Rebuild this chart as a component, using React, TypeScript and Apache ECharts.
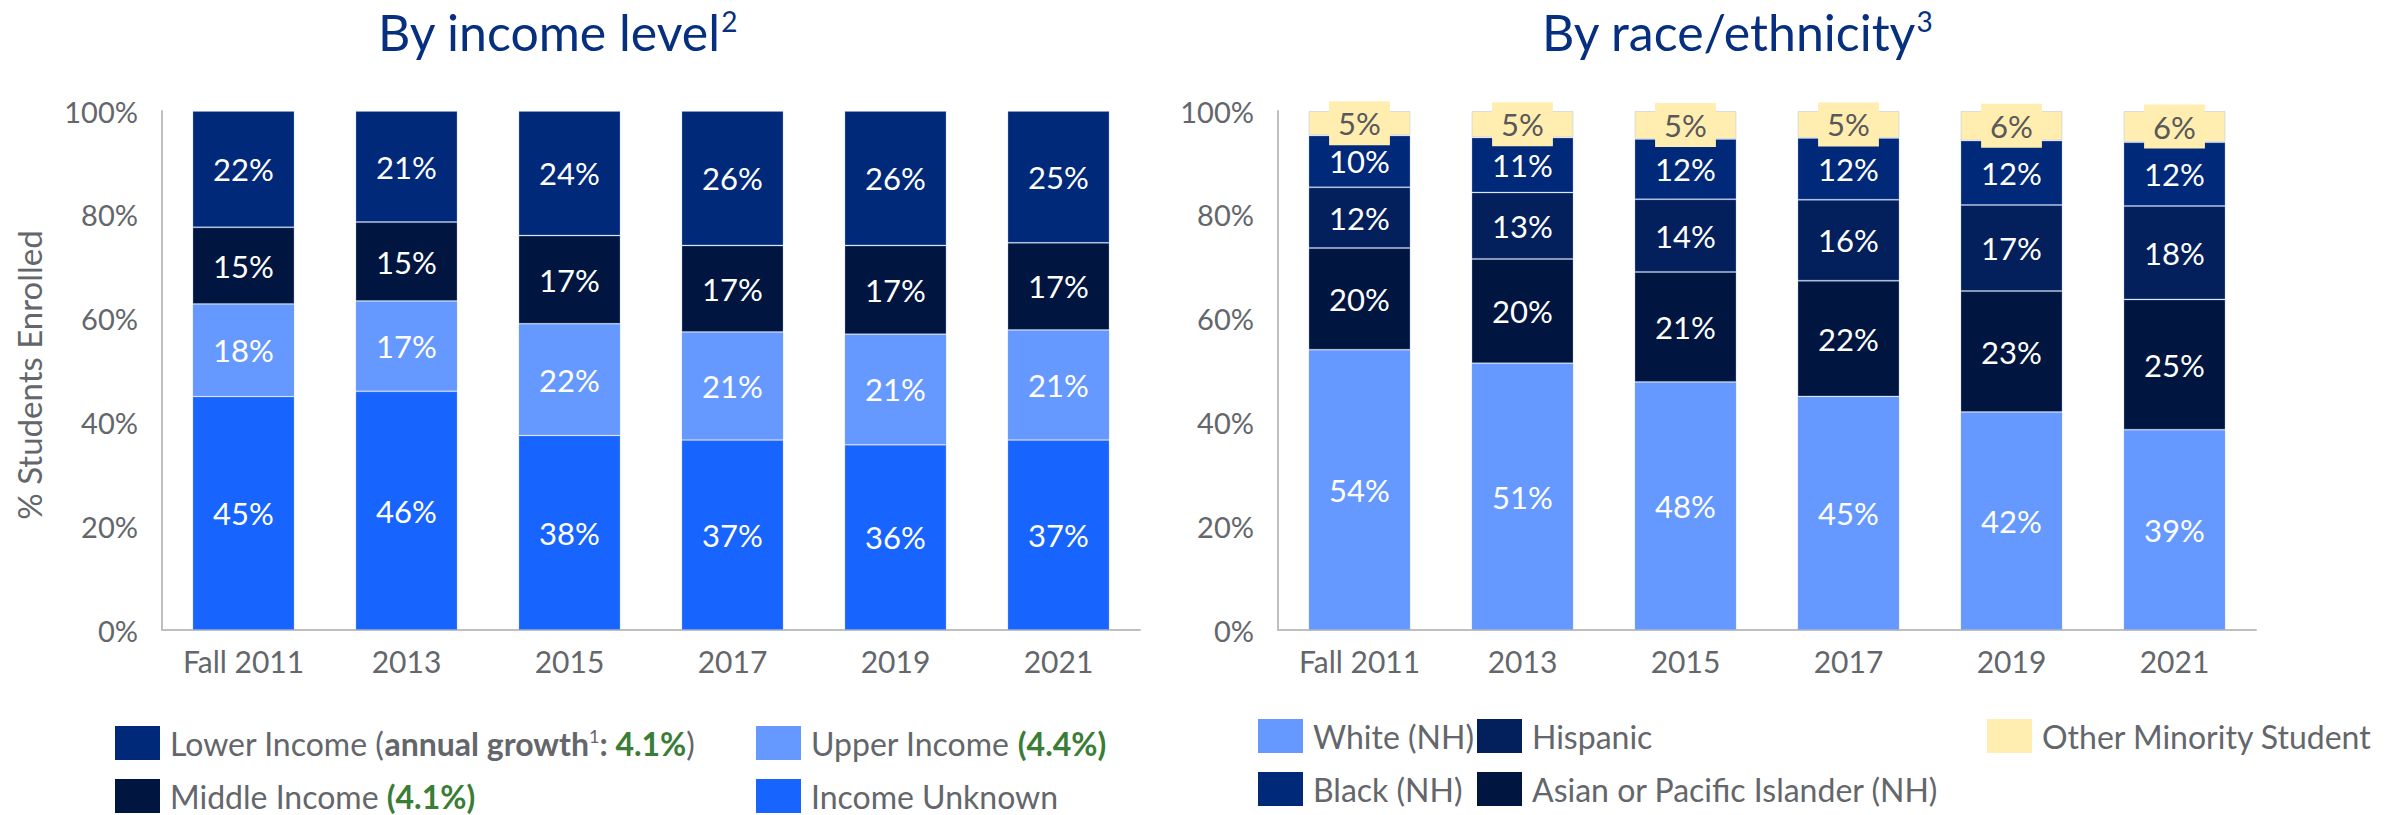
import React, { useEffect, useRef } from 'react';
import * as echarts from 'echarts';

const categories = ['Fall 2011', '2013', '2015', '2017', '2019', '2021'];
const yTicks = [0, 20, 40, 60, 80, 100];

// Income level (% of students), bottom to top
const incomeUnknown = [45.0, 46.0, 37.5, 36.6, 35.7, 36.6];
const upperIncome = [17.8, 17.4, 21.5, 20.8, 21.3, 21.2];
const middleIncome = [14.8, 15.2, 17.0, 16.7, 17.1, 16.8];
const lowerIncome = [22.4, 21.4, 24.0, 25.9, 25.9, 25.4];

// Race / ethnicity (% of students), bottom to top
const whiteNH = [54.0, 51.4, 47.8, 45.0, 42.0, 38.6];
const asianPI = [19.6, 20.1, 21.2, 22.3, 23.3, 25.1];
const hispanic = [11.7, 12.8, 14.0, 15.6, 16.6, 18.0];
const blackNH = [10.0, 10.6, 11.6, 11.9, 12.4, 12.3];
const otherMinority = [4.7, 5.1, 5.4, 5.2, 5.7, 6.0];

const FONT = 'Lato, "Open Sans", sans-serif';
const GREY = '#63666A';
const GREEN = '#3A7D36';
const TITLE = '#06307F';

const C_LOWER = '#00297A';
const C_MIDDLE = '#001640';
const C_UPPER = '#6699FF';
const C_UNKNOWN = '#1764FF';
const C_WHITE = '#6699FF';
const C_BLACK = '#00297A';
const C_HISP = '#031F5C';
const C_ASIAN = '#001640';
const C_OTHER = '#FFEEB0';

const LEG = 32;

const fmt = (p: any) => Math.round(p.value) + '%';

function barSeries(name: string, data: number[], color: string, idx: number, stack: string, dark = false) {
  return {
    name,
    type: 'bar',
    stack,
    xAxisIndex: idx,
    yAxisIndex: idx,
    barWidth: 102,
    data,
    itemStyle: { color, borderColor: 'rgba(150,175,225,0.35)', borderWidth: 1 },
    label: dark
      ? {
          show: true,
          position: 'inside',
          formatter: fmt,
          color: '#595959',
          fontSize: 31,
          fontFamily: FONT,
          backgroundColor: C_OTHER,
          padding: [7, 9, 6, 9],
        }
      : {
          show: true,
          position: 'inside',
          formatter: fmt,
          color: '#ffffff',
          fontSize: 31,
          fontFamily: FONT,
        },
  };
}

function legendItem(x: number, y: number, color: string, text: string, rich?: any) {
  return [
    { type: 'rect', shape: { x, y: y - 17, width: 45, height: 34 }, style: { fill: color } },
    {
      type: 'text',
      x: x + 55,
      y,
      style: {
        text,
        fill: GREY,
        fontSize: LEG,
        fontFamily: FONT,
        verticalAlign: 'middle',
        align: 'left',
        rich,
      },
    },
  ];
}

export default function App() {
  const ref = useRef<HTMLDivElement>(null);
  useEffect(() => {
    document.body.style.margin = '0';
    const chart = echarts.init(ref.current!, null, { renderer: 'svg' });
    const axisX = (i: number) => ({
      type: 'category',
      gridIndex: i,
      data: categories,
      axisLine: { lineStyle: { color: '#BFBFBF', width: 2 } },
      axisTick: { show: false },
      axisLabel: { fontSize: 30, color: GREY, fontFamily: FONT, margin: 16 },
    });
    const axisY = (i: number) => ({
      type: 'value',
      gridIndex: i,
      min: yTicks[0],
      max: yTicks[yTicks.length - 1],
      interval: 20,
      axisLine: { show: true, lineStyle: { color: '#BFBFBF', width: 2 } },
      axisTick: { show: false },
      splitLine: { show: false },
      axisLabel: { fontSize: 29, color: GREY, fontFamily: FONT, margin: 24, formatter: '{value}%' },
    });
    const base = { fontSize: LEG, fontFamily: FONT, fill: GREY, color: GREY };
    const richLeft = {
      g: { ...base },
      b: { ...base, fontWeight: 'bold' },
      sup: { ...base, fontSize: 18, verticalAlign: 'top', padding: [0, 0, 15, 0] },
      gb: { ...base, color: GREEN, fill: GREEN, fontWeight: 'bold' },
    };
    const titleRich = {
      m: { fontSize: 50, fontFamily: FONT, fill: TITLE, color: TITLE },
      s: { fontSize: 28, fontFamily: FONT, fill: TITLE, color: TITLE, verticalAlign: 'top', padding: [0, 0, 22, 0] },
    };
    const option: any = {
      animation: false,
      grid: [
        { left: 162, top: 111, width: 978, height: 519 },
        { left: 1278, top: 111, width: 978, height: 519 },
      ],
      xAxis: [axisX(0), axisX(1)],
      yAxis: [axisY(0), axisY(1)],
      series: [
        barSeries('Income Unknown', incomeUnknown, C_UNKNOWN, 0, 'inc'),
        barSeries('Upper Income', upperIncome, C_UPPER, 0, 'inc'),
        barSeries('Middle Income', middleIncome, C_MIDDLE, 0, 'inc'),
        barSeries('Lower Income', lowerIncome, C_LOWER, 0, 'inc'),
        barSeries('White (NH)', whiteNH, C_WHITE, 1, 'race'),
        barSeries('Asian or Pacific Islander (NH)', asianPI, C_ASIAN, 1, 'race'),
        barSeries('Hispanic', hispanic, C_HISP, 1, 'race'),
        barSeries('Black (NH)', blackNH, C_BLACK, 1, 'race'),
        barSeries('Other Minority Student', otherMinority, C_OTHER, 1, 'race', true),
      ],
      graphic: [
        {
          type: 'text',
          x: 378,
          y: 32,
          style: { text: '{m|By income level}{s|2}', verticalAlign: 'middle', rich: titleRich },
        },
        {
          type: 'text',
          x: 1542,
          y: 32,
          style: { text: '{m|By race/ethnicity}{s|3}', verticalAlign: 'middle', rich: titleRich },
        },
        {
          type: 'text',
          x: 29,
          y: 375,
          rotation: Math.PI / 2,
          style: {
            text: '% Students Enrolled',
            fill: GREY,
            fontSize: 33,
            fontFamily: FONT,
            align: 'center',
            verticalAlign: 'middle',
          },
        },
        ...legendItem(115, 743, C_LOWER, '{g|Lower Income (}{b|annual growth}{sup|1}{b|: }{gb|4.1%}{g|)}', richLeft),
        ...legendItem(756, 743, C_UPPER, '{g|Upper Income }{gb|(4.4%)}', richLeft),
        ...legendItem(115, 796, C_MIDDLE, '{g|Middle Income }{gb|(4.1%)}', richLeft),
        ...legendItem(756, 796, C_UNKNOWN, 'Income Unknown'),
        ...legendItem(1258, 736, C_WHITE, 'White (NH)'),
        ...legendItem(1477, 736, C_HISP, 'Hispanic'),
        ...legendItem(1987, 736, C_OTHER, 'Other Minority Student'),
        ...legendItem(1258, 789, C_BLACK, 'Black (NH)'),
        ...legendItem(1477, 789, C_ASIAN, 'Asian or Pacific Islander (NH)'),
      ],
    };
    chart.setOption(option);
    return () => chart.dispose();
  }, []);
  return <div ref={ref} style={{ width: 2394, height: 815 }} />;
}
